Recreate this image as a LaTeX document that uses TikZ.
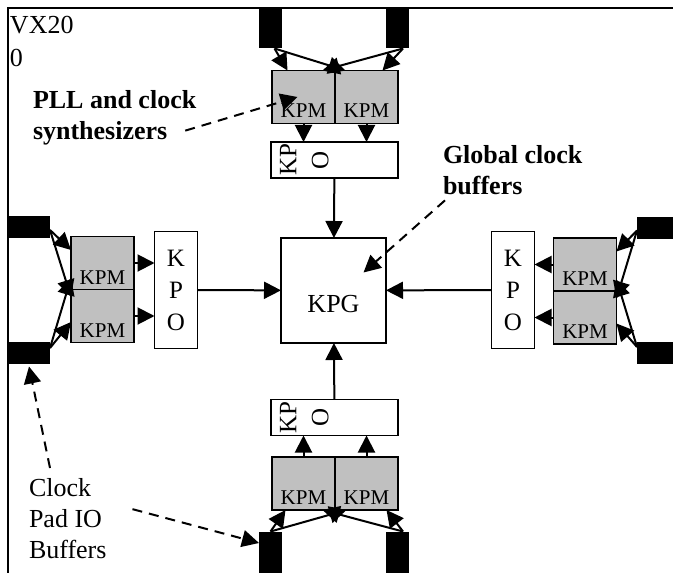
\documentclass[tikz,border=0pt]{standalone}
\usepackage{fontspec}
\setmainfont{Liberation Serif}
\usepackage{xcolor}
\usetikzlibrary{positioning,arrows.meta}
\definecolor{kpmgray}{RGB}{192,192,192}

\begin{document}
\begin{tikzpicture}[
  x=0.5pt, y=-0.5pt,
  every node/.style={outer sep=0pt},
  pad/.style={fill=black, inner sep=0pt},
  vpad/.style={pad, minimum width=11.5pt, minimum height=20.5pt},
  hpad/.style={pad, minimum width=21pt, minimum height=11pt},
  kpm/.style={draw, fill=kpmgray, line width=0.9pt, inner sep=0pt, minimum width=31.5pt,
    minimum height=26.5pt, text height=21pt, text depth=0pt, font=\fontsize{10.5}{12}\selectfont},
  kpo/.style={draw, fill=white, line width=0.9pt, inner sep=0pt, align=center,
    font=\fontsize{12.5}{16}\selectfont},
  hkpo/.style={kpo, minimum width=63.5pt, minimum height=18pt},
  vkpo/.style={kpo, minimum width=21.5pt, minimum height=58.5pt},
  kpolbl/.style={rotate=90, anchor=north, inner sep=0pt, align=center, font=\fontsize{12.5}{16}\selectfont},
  kpg/.style={draw, line width=0.9pt, inner sep=0pt, minimum size=52.5pt,
    text height=21.5pt, text depth=0pt, font=\fontsize{13}{15}\selectfont},
  note/.style={align=left, inner sep=0pt, anchor=north west, font=\fontsize{13}{15.5}\selectfont},
  bnote/.style={note, font=\fontsize{13}{15.5}\selectfont\bfseries},
  arr/.style={-{Triangle[length=8.5pt,width=8.5pt]}, line width=1pt},
  dasharr/.style={arr, dash pattern=on 5pt off 3.5pt}]
  \useasboundingbox (0,0) rectangle (673,572);
  % chip outline
  \draw[line width=1pt] (8,580) -- (8,8) -- (680,8);
  \node[note, font=\fontsize{13}{16.5}\selectfont] (chip) at (10,16) {VX20\\0};
  % global clock buffer
  \node[kpg] (kpg) at (333.5,290.5) {KPG};
  % top quadrant
  \node[vpad] (tpL) at (270.5,28) {};
  \node[vpad] (tpR) at (397,28) {};
  \node[kpm] (tmL) at (303.5,97) {KPM};
  \node[kpm, right=0pt of tmL] (tmR) {KPM};
  \node[hkpo] (tkpo) at (334.5,160) {};
  \node[kpolbl] (tkpot) at ([xshift=4.5pt]tkpo.west) {KP\\O};
  % bottom quadrant
  \node[vpad] (bpL) at (270.5,552) {};
  \node[vpad] (bpR) at (397,552) {};
  \node[kpm] (bmL) at (303.5,483.5) {KPM};
  \node[kpm, right=0pt of bmL] (bmR) {KPM};
  \node[hkpo] (bkpo) at (334.5,417.5) {};
  \node[kpolbl] (bkpot) at ([xshift=4.5pt]bkpo.west) {KP\\O};
  % left quadrant
  \node[hpad] (lpT) at (29,227) {};
  \node[hpad] (lpB) at (29,352.5) {};
  \node[kpm] (lmU) at (102.5,263) {KPM};
  \node[kpm, below=0pt of lmU] (lmL) {KPM};
  \node[vkpo] (lkpo) at (176,290) {K\\P\\O};
  % right quadrant
  \node[hpad] (rpT) at (658,227.5) {};
  \node[hpad] (rpB) at (658,353) {};
  \node[kpm] (rmU) at (585,264.5) {KPM};
  \node[kpm, below=0pt of rmU] (rmL) {KPM};
  \node[vkpo] (rkpo) at (513,290) {K\\P\\O};
  % pads to KPMs
  \draw[arr] ([xshift=2pt]tpL.south) -- ([xshift=-8pt]tmL.north);
  \draw[arr] ([xshift=2pt]tpL.south) -- ([xshift=-10.5pt]tmR.north);
  \draw[arr] ([xshift=3pt]tpR.south) -- ([xshift=9.5pt]tmL.north);
  \draw[arr] ([xshift=3pt]tpR.south) -- ([xshift=8pt]tmR.north);
  \draw[arr] (bpL.north) -- ([xshift=-9pt]bmL.south);
  \draw[arr] (bpL.north) -- ([xshift=-10pt]bmR.south);
  \draw[arr] ([xshift=3pt]bpR.north) -- ([xshift=9.5pt]bmL.south);
  \draw[arr] ([xshift=3pt]bpR.north) -- ([xshift=10pt]bmR.south);
  \draw[arr] ([yshift=-1.5pt]lpT.east) -- ([yshift=6.5pt]lmU.west);
  \draw[arr] ([yshift=-1.5pt]lpT.east) -- ([yshift=9.5pt]lmL.west);
  \draw[arr] ([yshift=2.25pt]lpB.east) -- ([yshift=-7.5pt]lmU.west);
  \draw[arr] ([yshift=2.25pt]lpB.east) -- ([yshift=-3pt]lmL.west);
  \draw[arr] ([yshift=-1.5pt]rpT.west) -- ([yshift=6.5pt]rmU.east);
  \draw[arr] ([yshift=-1.5pt]rpT.west) -- ([yshift=9.5pt]rmL.east);
  \draw[arr] ([yshift=3pt]rpB.west) -- ([yshift=-7.5pt]rmU.east);
  \draw[arr] ([yshift=3pt]rpB.west) -- ([yshift=-3pt]rmL.east);
  % KPMs to KPOs
  \draw[arr] (tmL.south) -- (tmL.south |- tkpo.north);
  \draw[arr] (tmR.south) -- (tmR.south |- tkpo.north);
  \draw[arr] (bmL.north) -- (bmL.north |- bkpo.south);
  \draw[arr] (bmR.north) -- (bmR.north |- bkpo.south);
  \draw[arr] (lmU.east) -- (lmU.east -| lkpo.west);
  \draw[arr] (lmL.east) -- (lmL.east -| lkpo.west);
  \draw[arr] (rmU.west) -- (rmU.west -| rkpo.east);
  \draw[arr] (rmL.west) -- (rmL.west -| rkpo.east);
  % KPOs to KPG
  \draw[arr] (tkpo) -- (kpg);
  \draw[arr] (bkpo) -- (kpg);
  \draw[arr] (lkpo) -- (kpg);
  \draw[arr] (rkpo) -- (kpg);
  % callouts
  \node[bnote] (pll) at (33,90) {PLL and clock\\synthesizers};
  \node[bnote] (gcb) at (443,145) {Global clock\\buffers};
  \node[note] (padtxt) at (29,478) {Clock\\Pad IO\\Buffers};
  \draw[dasharr] ([shift={(-5.5pt,7pt)}]pll.south east) -- ([xshift=-3pt]tmL.center);
  \draw[dasharr] ([shift={(1pt,-3pt)}]gcb.south west) -- ([shift={(15pt,9pt)}]kpg.center);
  \draw[dasharr] ([shift={(10.5pt,5pt)}]padtxt.north west) -- ([yshift=-1.5pt]lpB.south);
  \draw[dasharr] ([shift={(13pt,4.5pt)}]padtxt.east) -- ([yshift=4.5pt]bpL.west);
\end{tikzpicture}
\end{document}
